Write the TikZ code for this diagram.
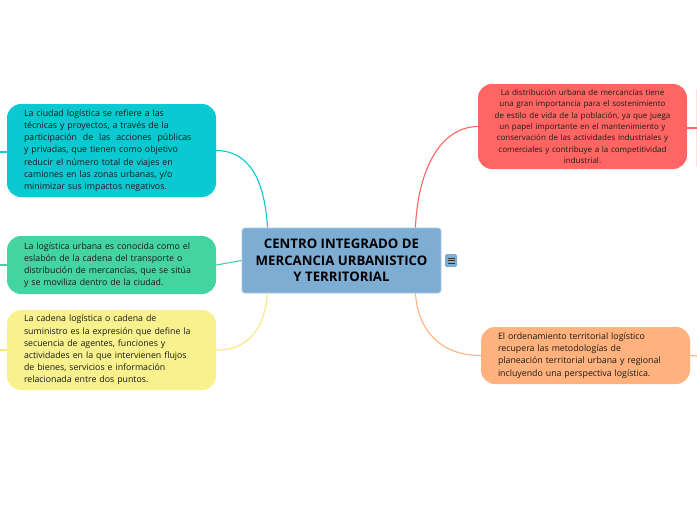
\documentclass[tikz,border=0pt]{standalone}
\usepackage{fontspec}
\setmainfont{Open Sans}
\usetikzlibrary{positioning,calc}

\definecolor{azulcentro}{HTML}{7EADD4}
\definecolor{bordecentro}{HTML}{A9C8E3}
\definecolor{cian}{HTML}{0BC9D1}
\definecolor{verde}{HTML}{44D4A2}
\definecolor{amarillo}{HTML}{F8F18D}
\definecolor{rojo}{HTML}{FF6663}
\definecolor{naranja}{HTML}{FFB27D}
\definecolor{textoidea}{HTML}{1A1A1A}

\begin{document}
\begin{tikzpicture}[
        x=1pt, y=-1pt,
        central/.style={rectangle, rounded corners=3pt, fill=azulcentro, draw=bordecentro, line width=0.8pt,
            minimum width=199pt, minimum height=65pt, align=center,
            font=\fontsize{13.2}{16.5}\selectfont\bfseries, text=black},
        idea/.style={rectangle, rounded corners=14pt, inner xsep=17pt, inner ysep=0pt,
            text width=175pt, align=left, font=\fontsize{8.8}{12.2}\selectfont, text=textoidea},
        rama/.style={line width=1.1pt}
    ]
        \useasboundingbox (0,0) rectangle (697,520);

        % Nodo central
        \node[central] (centro) at (341.5,260.5) {CENTRO INTEGRADO DE\\MERCANCIA URBANISTICO\\Y TERRITORIAL};
        \node[rectangle, rounded corners=1.5pt, fill=azulcentro, minimum width=12pt, minimum height=13pt, inner sep=0pt] (menu) at (451,260.5) {};
        \foreach \dy in {-2.6,0,2.6} {
            \draw[line width=0.8pt, black!80] ($(menu.center)+(-3.5,\dy)$) -- ++(7,0);
        }

        % Ideas de la izquierda
        \node[idea, fill=cian, minimum height=93pt] (ciudad) at (111.5,150.5)
            {La ciudad logística se refiere a las\\técnicas y proyectos, a través de la\\participación\ \ de\ \ las\ \ acciones\ \ públicas\\y privadas, que tienen como objetivo\\reducir el número total de viajes en\\camiones en las zonas urbanas, y/o\\minimizar sus impactos negativos.};
        \node[idea, fill=verde, minimum height=58pt] (urbana) at (111.5,265)
            {La logística urbana es conocida como el\\eslabón de la cadena del transporte o\\distribución de mercancías, que se sitúa\\y se moviliza dentro de la ciudad.};
        \node[idea, fill=amarillo, minimum height=80pt] (cadena) at (111.5,350)
            {La cadena logística o cadena de\\suministro es la expresión que define la\\secuencia de agentes, funciones y\\actividades en la que intervienen flujos\\de bienes, servicios e información\\relacionada entre dos puntos.};

        % Ideas de la derecha
        \node[idea, fill=rojo, minimum height=85pt, inner xsep=7pt, text width=195pt, align=center, font=\fontsize{8}{11.4}\selectfont] (distribucion) at (582.5,126.5)
            {La distribución urbana de mercancías tiene\\una gran importancia para el sostenimiento\\de estilo de vida de la población, ya que juega\\un papel importante en el mantenimiento y\\conservación de las actividades industriales y\\comerciales y contribuye a la competitividad\\industrial.};
        \node[idea, fill=naranja, minimum height=57pt] (ordenamiento) at (585.5,355.5)
            {El ordenamiento territorial logístico\\recupera las metodologías de\\planeación territorial urbana y regional\\incluyendo una perspectiva logística.};
        \node[rectangle, fill=rojo!18, minimum width=40pt, minimum height=78pt, inner sep=0pt, anchor=west] (siguiente) at (696,128) {};

        % Bordes del lienzo
        \coordinate (izqA) at (0,152);
        \coordinate (izqB) at (0,265);
        \coordinate (izqC) at (0,350);
        \coordinate (derA) at (697,128);
        \coordinate (derB) at (697,356);
        \coordinate (arribaIzq) at ($(centro.north west)!0.13!(centro.north east)$);
        \coordinate (arribaDer) at ($(centro.north west)!0.87!(centro.north east)$);
        \coordinate (abajoIzq) at ($(centro.south west)!0.13!(centro.south east)$);
        \coordinate (abajoDer) at ($(centro.south west)!0.87!(centro.south east)$);

        % Ramas
        \draw[rama, cian] (ciudad.east) .. controls (255,151) and (265,190) .. (arribaIzq);
        \draw[rama, verde] (urbana.east) -- (centro.west);
        \draw[rama, amarillo!90!orange] (cadena.east) .. controls (255,350) and (265,320) .. (abajoIzq);
        \draw[rama, rojo] (arribaDer) .. controls (418,170) and (440,127) .. (distribucion.west);
        \draw[rama, naranja] (abajoDer) .. controls (418,330) and (440,355.5) .. (ordenamiento.west);

        % Ramas hacia fuera
        \draw[rama, cian] (ciudad.west |- izqA) -- (izqA);
        \draw[rama, verde] (urbana.west) -- (izqB);
        \draw[rama, amarillo!90!orange] (cadena.west) -- (izqC);
        \draw[rama, rojo] (distribucion.east |- derA) -- (derA);
        \draw[rama, naranja] (ordenamiento.east) -- (derB);
    \end{tikzpicture}
\end{document}
